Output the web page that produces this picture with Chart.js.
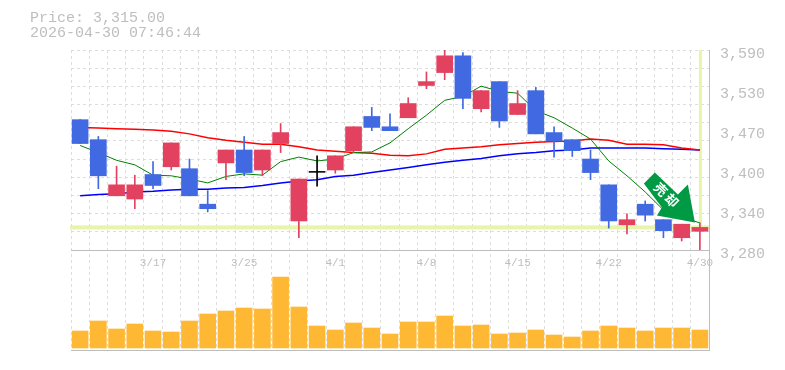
<!DOCTYPE html>
<html>
<head>
<meta charset="utf-8">
<title>Price chart</title>
<script src="https://cdn.jsdelivr.net/npm/chart.js@4/dist/chart.umd.min.js"></script>
<style>
  html, body { margin: 0; padding: 0; background: #fff; }
  canvas { display: block; }
</style>
</head>
<body>
<canvas id="priceChart" width="785" height="370"></canvas>
<script>
var dates = ["3/11", "3/12", "3/13", "3/16", "3/17", "3/18", "3/19", "3/23", "3/24", "3/25",
  "3/26", "3/27", "3/30", "3/31", "4/1", "4/2", "4/3", "4/6", "4/7", "4/8",
  "4/9", "4/10", "4/13", "4/14", "4/15", "4/16", "4/17", "4/20", "4/21", "4/22",
  "4/23", "4/24", "4/27", "4/28", "4/30"];
var shownDates = ["3/17", "3/25", "4/1", "4/8", "4/15", "4/22", "4/30"];

var opens = [3482, 3451, 3364, 3359, 3397, 3409, 3406, 3351, 3415, 3435,
  3404, 3445, 3325, 3401.8, 3404, 3434, 3487, 3471, 3485, 3535,
  3555, 3581, 3499, 3541, 3490, 3527, 3462, 3451, 3421, 3381,
  3319, 3351, 3327, 3299, 3309];
var closes = [3445, 3395, 3381, 3381, 3380, 3446, 3364, 3344, 3435, 3400,
  3435, 3462, 3390, 3400.4, 3426, 3471, 3470, 3465, 3507, 3541,
  3581, 3515, 3527, 3480, 3507, 3460, 3449, 3434, 3400, 3325,
  3327, 3334, 3310, 3320, 3315];
var highs = [3482, 3456, 3410, 3396, 3417, 3446, 3421, 3372, 3435, 3456,
  3435, 3476, 3390, 3426, 3426, 3471, 3501, 3491, 3516, 3556,
  3592, 3586, 3527, 3541, 3527, 3532, 3471, 3451, 3435, 3381,
  3336, 3356, 3327, 3320, 3322];
var lows = [3445, 3375, 3364, 3344, 3375, 3404, 3364, 3339, 3389, 3395,
  3395, 3431, 3299, 3379, 3399, 3431, 3465, 3465, 3485, 3530,
  3544, 3499, 3494, 3470, 3490, 3460, 3424, 3425, 3389, 3314,
  3305, 3325, 3299, 3294, 3279];

var maShort = [3442, 3431, 3419, 3412, 3396, 3395, 3390, 3384, 3394, 3398,
  3396, 3417, 3424, 3418, 3421, 3431, 3432, 3446, 3468, 3489,
  3512, 3518, 3534, 3526, 3523, 3496, 3485, 3469, 3452, 3418,
  3395, 3370, 3342, 3331, 3322];
var maMid = [3470, 3469, 3468, 3467, 3466, 3464, 3460, 3454, 3450, 3447,
  3444, 3444, 3440, 3435, 3433, 3431, 3430, 3427, 3426, 3429,
  3436, 3438, 3440, 3443, 3445, 3447, 3448, 3449, 3452, 3450,
  3444, 3444, 3443, 3438, 3435];
var maLong = [3364, 3366, 3367, 3370, 3371, 3373, 3374, 3374, 3376, 3377,
  3380, 3384, 3387, 3389, 3394, 3396, 3400, 3404, 3408, 3412,
  3416, 3419, 3422, 3426, 3429, 3431, 3434, 3435, 3438, 3438,
  3438, 3438, 3437, 3436, 3435];

var volumes = [170, 270, 190, 240, 170, 160, 270, 340, 370, 400,
  390, 710, 410, 220, 180, 250, 200, 140, 260, 260,
  320, 220, 230, 140, 150, 180, 130, 110, 170, 220,
  200, 170, 200, 200, 180];

var priceTicks = [3590, 3528, 3466, 3404, 3342, 3280];
var priceTickLabels = ["3,590", "3,530", "3,470", "3,400", "3,340", "3,280"];
var gridDivisions = 11;
var lastPrice = 3315;
var headerLines = ["Price: 3,315.00", "2026-04-30 07:46:44"];
var arrowText = ["売", "却"];

var UP = "#e2415f", DOWN = "#4169e1", DOJI = "#000000";
var TEXT = "#bebebe", GRID = "#dddddd", AXIS = "#bdbdbd", MARK = "#e6f5a8";
var MONO = "'Liberation Mono', monospace";

function candleColor(i) {
  if (Math.abs(opens[i] - closes[i]) < 2) return DOJI;
  return closes[i] > opens[i] ? UP : DOWN;
}
var colors = dates.map(function (d, i) { return candleColor(i); });

var overlay = {
  id: "overlay",
  beforeDatasetsDraw: function (chart) {
    var ctx = chart.ctx, area = chart.chartArea;
    var x = chart.scales.x.getPixelForValue(dates.length - 1);
    var y = chart.scales.price.getPixelForValue(lastPrice);
    ctx.save();
    ctx.fillStyle = MARK;
    ctx.fillRect(area.left - 1, y - 2, area.right - area.left + 1, 4);
    ctx.fillRect(x - 1, area.top, 3, y - area.top);
    ctx.restore();
  },
  afterDatasetsDraw: function (chart) {
    var ctx = chart.ctx;
    var x = chart.scales.x.getPixelForValue(dates.length - 1);
    var y = chart.scales.price.getPixelForValue(lastPrice);
    var shape = [[-45, -55], [-56, -44], [-38, -20], [-43, -12], [-5, -5], [-12, -43], [-22, -33]];
    ctx.save();
    ctx.fillStyle = "#009944";
    ctx.beginPath();
    shape.forEach(function (p, i) {
      if (i === 0) ctx.moveTo(x + p[0], y + p[1]);
      else ctx.lineTo(x + p[0], y + p[1]);
    });
    ctx.closePath();
    ctx.fill();
    // sell label, one glyph at a time along the shaft
    ctx.fillStyle = "#ffffff";
    ctx.font = "bold 13px 'Noto Sans CJK JP'";
    ctx.textAlign = "center";
    ctx.textBaseline = "middle";
    [[-39, -38], [-28, -27]].forEach(function (p, i) {
      ctx.save();
      ctx.translate(x + p[0], y + p[1]);
      ctx.rotate(Math.PI / 4);
      ctx.fillText(arrowText[i], 0, 0);
      ctx.restore();
    });
    ctx.fillStyle = TEXT;
    ctx.font = "15px " + MONO;
    ctx.textAlign = "left";
    ctx.textBaseline = "alphabetic";
    ctx.fillText(headerLines[0], 30, 22);
    ctx.fillText(headerLines[1], 30, 37);
    ctx.restore();
  },
};

new Chart(document.getElementById("priceChart"), {
  data: {
    labels: dates,
    datasets: [
      {
        type: "bar",
        yAxisID: "price",
        data: dates.map(function (d, i) { return [opens[i], closes[i]]; }),
        backgroundColor: colors,
        barThickness: 16,
        grouped: false,
        order: 1,
      },
      {
        type: "bar",
        yAxisID: "price",
        data: dates.map(function (d, i) { return [lows[i], highs[i]]; }),
        backgroundColor: colors,
        barThickness: 1,
        grouped: false,
        order: 2,
      },
      { type: "line", yAxisID: "price", data: maShort, borderColor: "#008000", borderWidth: 1, pointRadius: 0, tension: 0, order: 3 },
      { type: "line", yAxisID: "price", data: maMid, borderColor: "#ff0000", borderWidth: 1.5, pointRadius: 0, tension: 0, order: 3 },
      { type: "line", yAxisID: "price", data: maLong, borderColor: "#0000ff", borderWidth: 1.5, pointRadius: 0, tension: 0, order: 3 },
      {
        type: "bar",
        yAxisID: "volume",
        data: volumes,
        backgroundColor: "#ffb833",
        barThickness: 16,
        grouped: false,
        order: 1,
      },
    ],
  },
  options: {
    responsive: false,
    animation: false,
    layout: { padding: { left: 71, top: 50, right: 0, bottom: 20 } },
    plugins: { legend: { display: false }, tooltip: { enabled: false } },
    scales: {
      x: {
        type: "category",
        position: { price: 3280 },
        offset: true,
        grid: { color: GRID, drawTicks: false, offset: true },
        border: { color: AXIS, width: 1, dash: [3, 3] },
        ticks: {
          autoSkip: false,
          maxRotation: 0,
          padding: 6,
          color: TEXT,
          font: { family: MONO, size: 11 },
          callback: function (v) {
            var d = this.getLabelForValue(v);
            return shownDates.indexOf(d) >= 0 ? d : "";
          },
        },
      },
      price: {
        type: "linear",
        position: "right",
        stack: "panels",
        stackWeight: 2,
        min: 3280,
        max: 3590,
        afterFit: function (axis) { axis.width = 76; },
        afterBuildTicks: function (axis) {
          var ticks = priceTicks.map(function (v) { return { value: v }; });
          for (var i = 1; i < gridDivisions; i++) {
            ticks.push({ value: 3590 - (i * 310) / gridDivisions, gridOnly: true });
          }
          axis.ticks = ticks;
        },
        grid: {
          drawTicks: false,
          color: function (c) {
            if (c.tick && c.tick.gridOnly) return GRID;
            return c.tick && (c.tick.value === 3590) ? GRID : "rgba(0,0,0,0)";
          },
        },
        border: { color: AXIS, width: 1, dash: [3, 3] },
        ticks: {
          autoSkip: false,
          padding: 11,
          labelOffset: 4,
          color: TEXT,
          font: { family: MONO, size: 15 },
          callback: function (v) {
            var i = priceTicks.indexOf(v);
            return i >= 0 ? priceTickLabels[i] : "";
          },
        },
      },
      volume: {
        type: "linear",
        position: "right",
        stack: "panels",
        stackWeight: 1,
        min: -20,
        max: 980,
        afterFit: function (axis) { axis.width = 76; },
        afterBuildTicks: function (axis) { axis.ticks = [{ value: -20 }]; },
        grid: { drawTicks: false, color: AXIS },
        border: { color: AXIS, width: 1 },
        ticks: { display: false },
      },
    },
  },
  plugins: [overlay],
});
</script>
</body>
</html>
